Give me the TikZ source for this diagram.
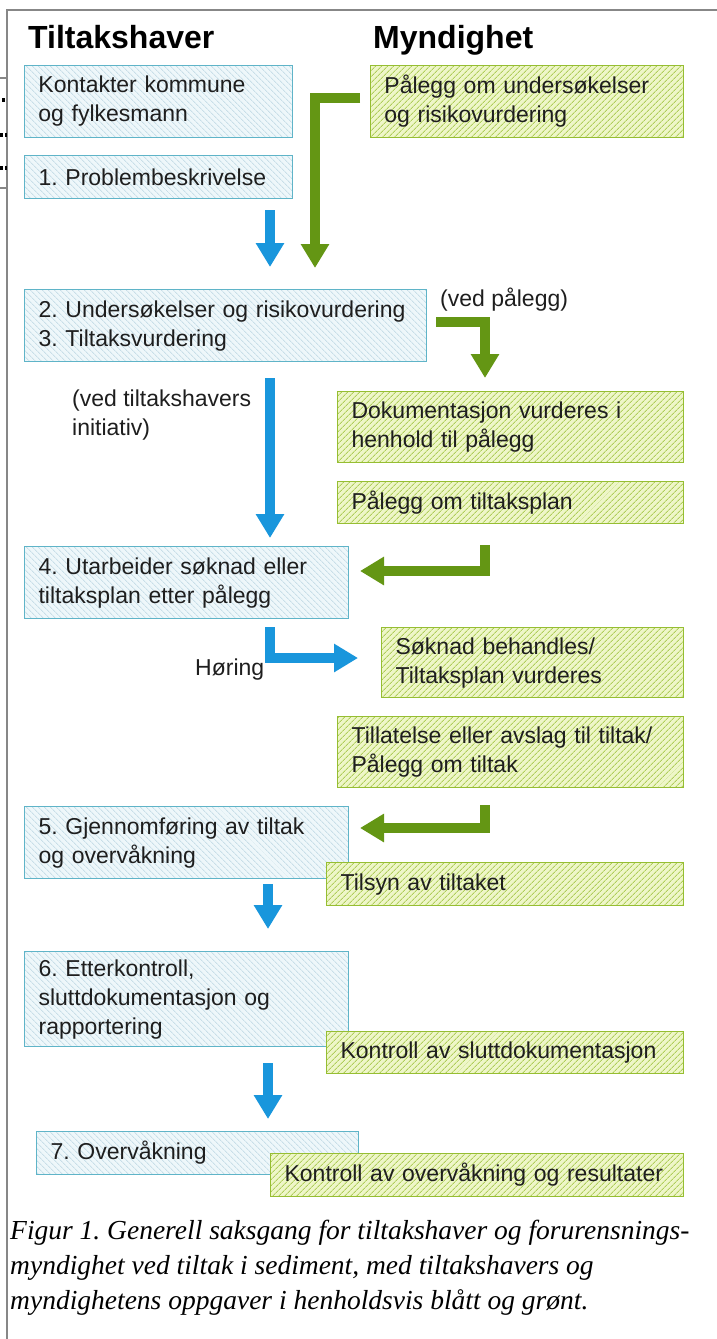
\documentclass[tikz,border=0pt]{standalone}
\usepackage{fontspec}
\setmainfont{Liberation Sans}
\newfontfamily\capfont{Liberation Serif}
\usetikzlibrary{arrows.meta,patterns.meta}
\frenchspacing
\definecolor{bluebd}{RGB}{95,180,200}
\definecolor{bluebg}{RGB}{238,247,250}
\definecolor{bluehatch}{RGB}{200,222,232}
\definecolor{greenbd}{RGB}{150,190,50}
\definecolor{greenbg}{RGB}{238,246,200}
\definecolor{greenhatch}{RGB}{175,205,90}
\definecolor{arrowblue}{RGB}{25,150,220}
\definecolor{arrowgreen}{RGB}{100,150,20}
\definecolor{framegray}{RGB}{135,135,135}
\definecolor{txt}{RGB}{30,30,30}
\tikzset{
  boxbase/.style={anchor=north west, inner xsep=14pt, inner ysep=0pt, align=left,
    text=txt, font=\fontsize{23}{29}\selectfont},
  bluebox/.style={boxbase, draw=bluebd, line width=1.2pt,
    preaction={fill=bluebg},
    pattern={Lines[angle=-45,distance=4pt,line width=0.9pt]}, pattern color=bluehatch},
  greenbox/.style={boxbase, draw=greenbd, line width=1.2pt,
    preaction={fill=greenbg},
    pattern={Lines[angle=45,distance=4pt,line width=0.9pt]}, pattern color=greenhatch},
  barrow/.style={draw=arrowblue, line width=10pt, line join=miter,
    -{Triangle[width=27pt,length=24pt]}},
  garrow/.style={draw=arrowgreen, line width=10pt, line join=miter,
    -{Triangle[width=27pt,length=24pt]}},
  header/.style={anchor=base west, font=\bfseries\fontsize{32}{36}\selectfont, text=black, inner sep=0pt},
  lbl/.style={text=txt, font=\fontsize{23}{29}\selectfont, inner sep=0pt, align=left},
  framel/.style={draw=framegray, line width=2pt},
}
\begin{document}
\begin{tikzpicture}[x=1pt,y=-1pt]
\useasboundingbox (0,0) rectangle (717,1339);
% frame
\coordinate (f1) at (717,10);
\coordinate (f2) at (7,10);
\coordinate (f3) at (7,1339);
\draw[framel] (f1) -- (f2) -- (f3);
\coordinate (s1a) at (0,78); \coordinate (s1b) at (7,78);
\coordinate (s2a) at (0,188); \coordinate (s2b) at (7,188);
\draw[draw=framegray, line width=1.5pt] (s1a) -- (s1b);
\draw[draw=framegray, line width=1.5pt] (s2a) -- (s2b);
\fill[black] (2,98) rectangle (5,102);
\fill[black] (0,133) rectangle (3,137);
\fill[black] (5,133) rectangle (7,137);
\fill[black] (0,166) rectangle (3,170);
\fill[black] (5,166) rectangle (7,170);

% headers
\node[header] (h1) at (28,48) {Tiltakshaver};
\node[header] (h2) at (373,48) {Myndighet};

% blue boxes
\node[bluebox, text width=240pt, minimum height=72pt] (a) at (24,65) {Kontakter kommune\\og fylkesmann};
\node[bluebox, text width=240pt, minimum height=43pt] (b) at (24,155) {1. Problembeskrivelse};
\node[bluebox, text width=374pt, minimum height=72pt] (c) at (24,289) {\mbox{2. Undersøkelser og risikovurdering}\\3. Tiltaksvurdering};
\node[bluebox, text width=296pt, minimum height=72pt] (d) at (24,546) {\mbox{4. Utarbeider søknad eller}\\tiltaksplan etter pålegg};
\node[bluebox, text width=296pt, minimum height=72pt] (e) at (24,806) {\mbox{5. Gjennomføring av tiltak}\\og overvåkning};
\node[bluebox, text width=296pt, minimum height=95pt] (f) at (24,951) {6. Etterkontroll,\\sluttdokumentasjon og\\rapportering};
\node[bluebox, text width=294pt, minimum height=43pt] (h) at (36,1131) {7. Overvåkning};

% green boxes
\node[greenbox, text width=285pt, minimum height=72pt] (g1) at (370,65) {\mbox{Pålegg om undersøkelser}\\og risikovurdering};
\node[greenbox, text width=318pt, minimum height=71pt] (g2) at (337,391) {\mbox{Dokumentasjon vurderes i}\\henhold til pålegg};
\node[greenbox, text width=318pt, minimum height=42pt] (g3) at (337,481) {Pålegg om tiltaksplan};
\node[greenbox, text width=274pt, minimum height=70pt] (g4) at (381,627) {Søknad behandles/\\Tiltaksplan vurderes};
\node[greenbox, text width=318pt, minimum height=71pt] (g5) at (337,716) {\mbox{Tillatelse eller avslag til tiltak/}\\Pålegg om tiltak};
\node[greenbox, text width=329pt, minimum height=43pt] (g6) at (326,862) {Tilsyn av tiltaket};
\node[greenbox, text width=329pt, minimum height=42pt] (g7) at (326,1031) {Kontroll av sluttdokumentasjon};
\node[greenbox, text width=385pt, minimum height=43pt] (g8) at (270,1153) {\mbox{Kontroll av overvåkning og resultater}};

% labels
\node[lbl, anchor=west] (l1) at (440,300) {(ved pålegg)};
\node[lbl, anchor=north west] (l2) at (72,390) {(ved tiltakshavers\\initiativ)};
\node[lbl, anchor=west] (l3) at (195,670) {Høring};

% arrows
\coordinate (a1s) at (360,98); \coordinate (a1e) at (315,268);
\draw[garrow] (a1s) -| (a1e);
\coordinate (a2s) at (270,210); \coordinate (a2e) at (270,267);
\draw[barrow] (a2s) -- (a2e);
\coordinate (a3s) at (436,322); \coordinate (a3e) at (485,378);
\draw[garrow] (a3s) -| (a3e);
\coordinate (a4s) at (270,378); \coordinate (a4e) at (270,538);
\draw[barrow] (a4s) -- (a4e);
\coordinate (a5s) at (485,545); \coordinate (a5e) at (360,571);
\draw[garrow] (a5s) |- (a5e);
\coordinate (a6s) at (270,627); \coordinate (a6e) at (358,658);
\draw[barrow] (a6s) |- (a6e);
\coordinate (a7s) at (485,805); \coordinate (a7e) at (360,828);
\draw[garrow] (a7s) |- (a7e);
\coordinate (a8s) at (268,884); \coordinate (a8e) at (268,929);
\draw[barrow] (a8s) -- (a8e);
\coordinate (a9s) at (268,1063); \coordinate (a9e) at (268,1119);
\draw[barrow] (a9s) -- (a9e);

% caption
\node[anchor=north west, align=left, inner sep=0pt, text=black,
  font=\capfont\itshape\fontsize{27.5}{35}\selectfont] (cap) at (10,1220)
  {Figur 1. Generell saksgang for tiltakshaver og forurensnings-\\
   myndighet ved tiltak i sediment, med tiltakshavers og\\
   myndighetens oppgaver i henholdsvis blått og grønt.};
\end{tikzpicture}
\end{document}
